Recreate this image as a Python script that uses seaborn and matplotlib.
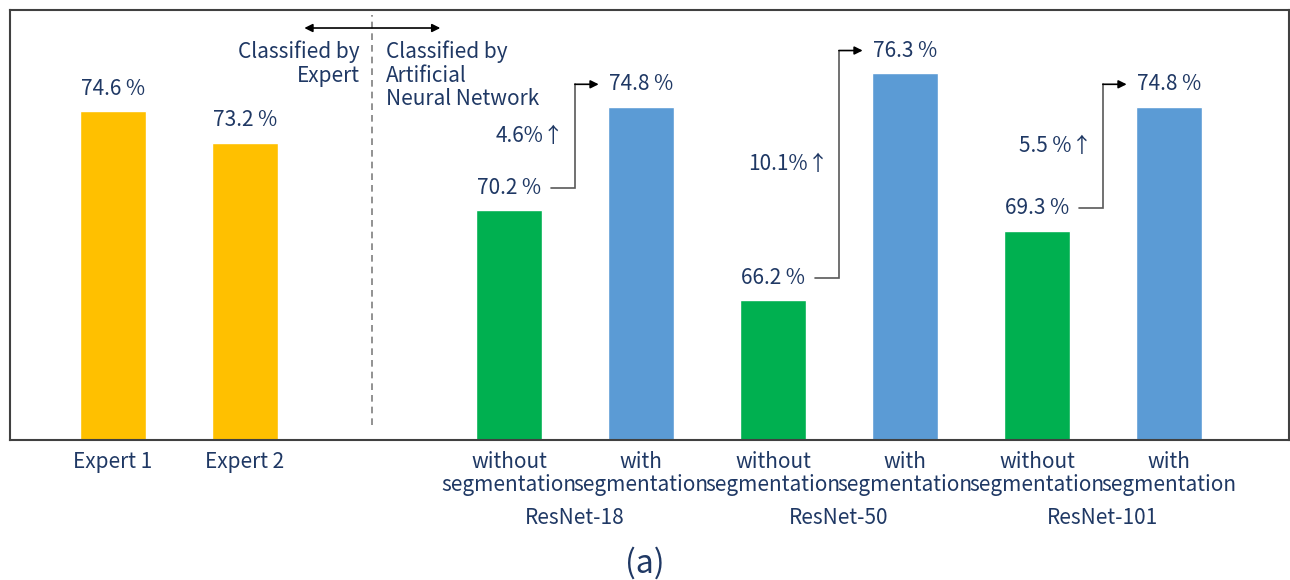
import numpy as np
import pandas as pd
import seaborn as sns
import matplotlib
matplotlib.use("Agg")
import matplotlib.pyplot as plt
import matplotlib.transforms as mtransforms

# ---- data ----
keys = ["e1", "e2", "gap", "r18_wo", "r18_w", "r50_wo", "r50_w", "r101_wo", "r101_w"]
tick_labels = ["Expert 1", "Expert 2", "",
               "without\nsegmentation", "with\nsegmentation",
               "without\nsegmentation", "with\nsegmentation",
               "without\nsegmentation", "with\nsegmentation"]
accuracy = [74.6, 73.2, np.nan, 70.2, 74.8, 66.2, 76.3, 69.3, 74.8]
value_labels = ["74.6 %", "73.2 %", "", "70.2 %", "74.8 %", "66.2 %", "76.3 %", "69.3 %", "74.8 %"]
bar_colors = ["#FFC000", "#FFC000", "#FFFFFF", "#00B050", "#5B9BD5",
              "#00B050", "#5B9BD5", "#00B050", "#5B9BD5"]
groups = ["ResNet-18", "ResNet-50", "ResNet-101"]
gain_labels = ["4.6%\u2191", "10.1%\u2191", "5.5 %\u2191"]

sns.set_theme(style="white")
plt.rcParams["font.family"] = ["Noto Sans CJK KR", "DejaVu Sans"]
navy = "#1F3864"

df = pd.DataFrame({"key": keys, "acc": accuracy})
fig = plt.figure(figsize=(12.9, 5.8), dpi=100)
ax = fig.add_axes([10 / 1290, 140 / 580, 1279 / 1290, 430 / 580])

sns.barplot(data=df, x="key", y="acc", hue="key", order=keys,
            palette=dict(zip(keys, bar_colors)), width=0.5, legend=False,
            saturation=1, ax=ax)

ax.set_ylim(60, 79.1)
ax.set_xlim(-0.78, 8.91)
ax.set_yticks([])
ax.set_xlabel("")
ax.set_ylabel("")
ax.set_xticks(range(len(keys)))
ax.set_xticklabels(tick_labels, fontsize=15, color=navy, linespacing=1.05)
ax.tick_params(axis="x", length=0, pad=8)
for s in ax.spines.values():
    s.set_visible(True)
    s.set_color("#404040")
    s.set_linewidth(1.5)

# value labels
for i, (v, lab) in enumerate(zip(accuracy, value_labels)):
    if lab:
        ax.text(i, v + 1.0, lab, ha="center", va="center", fontsize=15, color=navy)

# connectors and gains
for g, gain in enumerate(gain_labels):
    i = 3 + 2 * g
    y0 = accuracy[i] + 1.0
    y1 = accuracy[i + 1] + 1.0
    ax.plot([i + 0.32, i + 0.5, i + 0.5], [y0, y0, y1], color="#595959", lw=1.2,
            solid_joinstyle="miter")
    ax.annotate("", xy=(i + 0.68, y1), xytext=(i + 0.5, y1),
                arrowprops=dict(arrowstyle="-|>", color="black", lw=1.2,
                                mutation_scale=12, shrinkA=0, shrinkB=0))
    ax.text(i + 0.42, (y0 + y1) / 2, gain, ha="right", va="center",
            fontsize=15, color=navy)

# group labels
trans = mtransforms.blended_transform_factory(ax.transData, fig.transFigure)
for g, name in enumerate(groups):
    i = 3 + 2 * g
    ax.text(i + 0.5, (580 - 518) / 580, name, transform=trans, ha="center",
            va="center", fontsize=15, color=navy)

# divider and top annotation
ax.plot([1.96, 1.96], [60.67, 78.9], color="#7f7f7f", lw=1.2, ls=(0, (4, 3)))
ax.annotate("", xy=(1.45, 78.3), xytext=(2.48, 78.3),
            arrowprops=dict(arrowstyle="<|-|>", color="black", lw=1.2,
                            mutation_scale=12, shrinkA=0, shrinkB=0))
ax.text(1.87, 77.75, "Classified by\nExpert", ha="right", va="top", fontsize=15,
        color=navy, linespacing=1.1)
ax.text(2.07, 77.75, "Classified by\nArtificial\nNeural Network", ha="left",
        va="top", fontsize=15, color=navy, linespacing=1.1)

fig.text(0.5, (580 - 563) / 580, "(a)", ha="center", va="center", fontsize=23,
         color=navy)

fig.savefig("out.png", dpi=100)
